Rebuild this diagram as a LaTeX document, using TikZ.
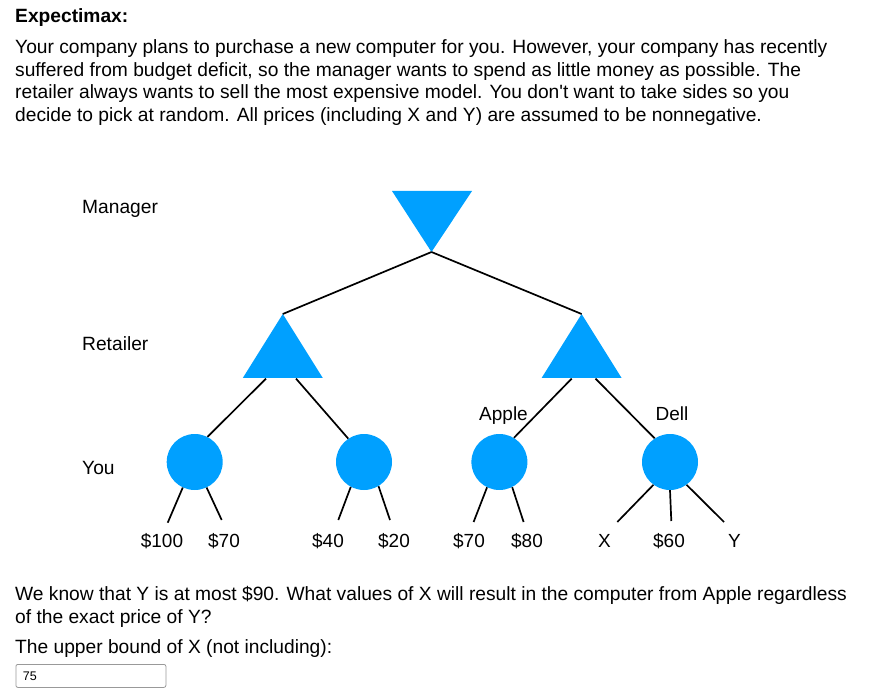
\documentclass[tikz,border=0pt]{standalone}
\usepackage{fontspec}
\setmainfont{Liberation Sans}
\usepackage{tikz}

\definecolor{nodeblue}{RGB}{0,160,255}
\tikzset{
  txt/.style={anchor=base west, inner sep=0pt, font=\fontsize{19.2}{23}\selectfont},
  lbl/.style={anchor=base, inner sep=0pt, font=\fontsize{19}{22}\selectfont},
  chance/.style={circle, fill=nodeblue, minimum size=56pt, inner sep=0pt},
  edge/.style={line width=1.7pt, black},
}

\begin{document}
\begin{tikzpicture}[x=1pt,y=-1pt]
    \useasboundingbox (0,0) rectangle (894,692);

    % draw heading and question text
    \node[txt, font=\bfseries\fontsize{19.2}{23}\selectfont] (title) at (15,23) {Expectimax:};
    \foreach \line [count=\i from 0] in {
      {Your company plans to purchase a new computer for you. However, your company has recently},
      {suffered from budget deficit, so the manager wants to spend as little money as possible. The},
      {retailer always wants to sell the most expensive model. You don\textquotesingle t want to take sides so you},
      {decide to pick at random. All prices (including X and Y) are assumed to be nonnegative.}}
    \node[txt] (intro\i) at (15,53.3+22.8*\i) {\line};

    % draw level names
    \node[txt] (manager) at (82,214) {Manager};
    \node[txt] (retailer) at (82,351) {Retailer};
    \node[txt] (you) at (82,474) {You};

    % draw min and max triangles
    \fill[nodeblue] (392,191) -- (472,191) -- (431.5,252) -- cycle;
    \coordinate (mgr) at (431.5,252);
    \foreach \name/\x in {retL/282.8, retR/581.6} {
      \fill[nodeblue] (\x,314) -- (\x+40,378) -- (\x-40,378) -- cycle;
      \coordinate (\name) at (\x,314);
    }
    \coordinate (retL-l) at (266,378.6);
    \coordinate (retL-r) at (296,378.6);
    \coordinate (retR-l) at (571.7,378.6);
    \coordinate (retR-r) at (595.5,378.6);

    % draw chance nodes
    \node[chance] (c1) at (194.7,462) {};
    \node[chance] (c2) at (364,462) {};
    \node[chance] (c3) at (499.4,462) {};
    \node[chance] (c4) at (670,462) {};

    % draw edges
    \draw[edge] (mgr) -- (retL);
    \draw[edge] (mgr) -- (retR);
    \draw[edge] (retL-l) -- (c1.63);
    \draw[edge] (retL-r) -- (c2.124);
    \draw[edge] (retR-l) -- (c3.59);
    \draw[edge] (retR-r) -- (c4.123);

    % draw leaf edges
    \foreach \i/\x/\y in {1/167.7/522.7, 2/221.7/520, 3/338.3/520, 4/390/520,
      5/473.6/522, 6/523.6/522, 7/617.3/522, 8/671.3/521, 9/724/522}
    \coordinate (end\i) at (\x,\y);
    \foreach \c/\a/\i in {c1/245/1, c1/295/2, c2/242/3, c2/301/4,
      c3/244/5, c3/297/6, c4/234/7, c4/270/8, c4/306/9}
    \draw[edge] (\c.\a) -- (end\i);

    % draw leaf values
    \foreach \i/\x/\v in {1/162/\$100, 2/224/\$70, 3/328/\$40, 4/394/\$20,
      5/469/\$70, 6/527/\$80, 7/604.5/X, 8/669/\$60, 9/734.5/Y}
    \node[lbl] (val\i) at (\x,547.5) {\v};

    \node[lbl] (apple) at (503.5,420) {Apple};
    \node[lbl] (dell) at (672,420) {Dell};

    % draw question and answer box
    \node[txt] (ask1) at (15,600) {We know that Y is at most \$90. What values of X will result in the computer from Apple regardless};
    \node[txt] (ask2) at (15,623) {of the exact price of Y?};
    \node[txt] (ask3) at (15,653) {The upper bound of X (not including):};
    \node[draw=gray!80, rounded corners=2pt, line width=0.8pt, minimum width=150pt,
      minimum height=23pt, anchor=north west, inner xsep=7pt, text width=136pt,
      align=left, font=\fontsize{12.5}{14}\selectfont] (box) at (15.5,664) {75};

  \end{tikzpicture}
\end{document}
